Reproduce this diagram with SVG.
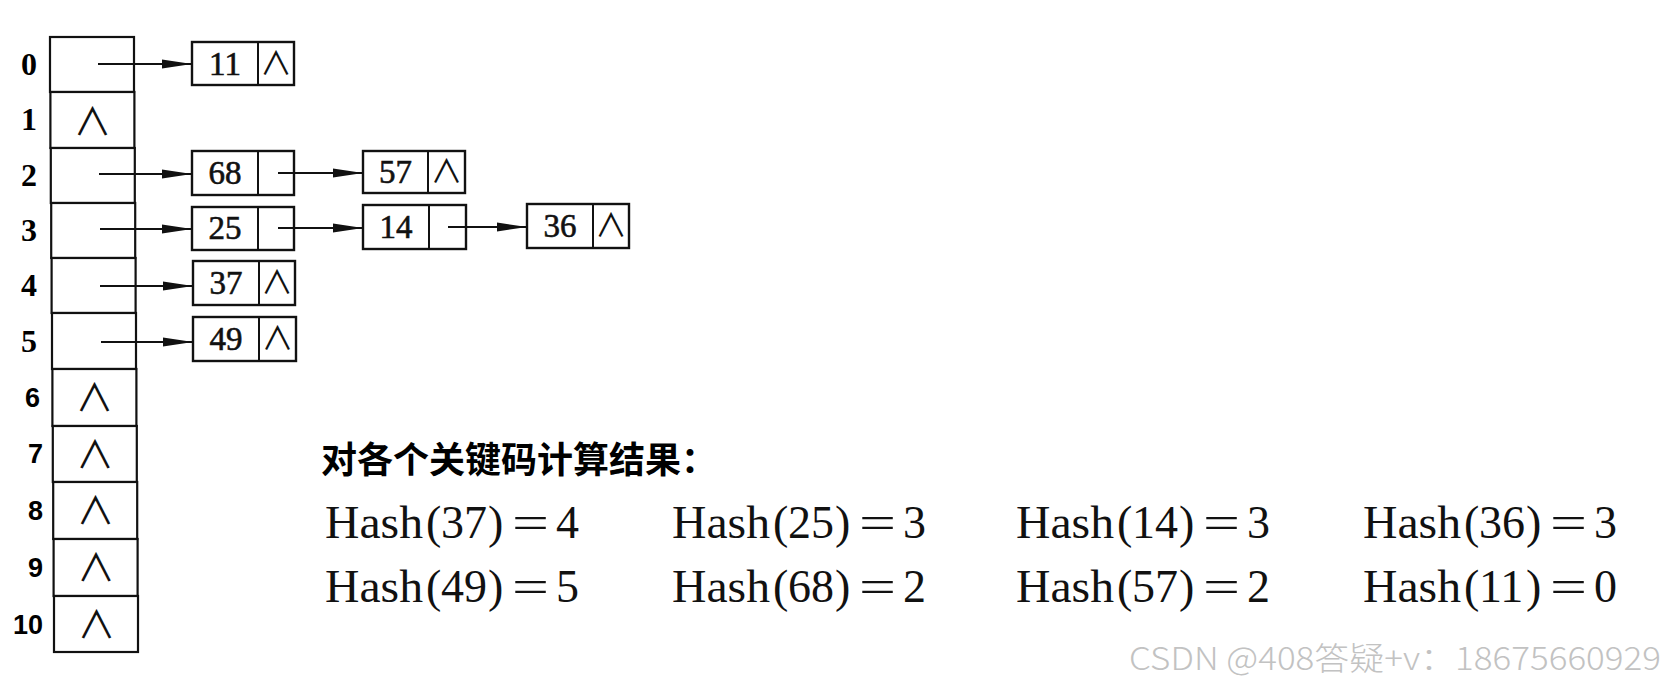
<svg xmlns="http://www.w3.org/2000/svg" width="1665" height="687" viewBox="0 0 1665 687">
<defs>
<style>
.cell{fill:#fff;stroke:#111;stroke-width:2.2}
.box{fill:#fff;stroke:#111;stroke-width:2.4}
.div{stroke:#111;stroke-width:2}
.idx{font-family:"Liberation Serif",serif;font-weight:700;font-size:32px;fill:#000;text-anchor:middle}
.idxs{font-family:"Liberation Sans",sans-serif;font-weight:700;font-size:27px;fill:#000;text-anchor:end}
.num{font-family:"Liberation Serif",serif;font-size:33px;fill:#111;stroke:#111;stroke-width:0.6;text-anchor:middle}
.nil{font-family:"Noto Sans CJK SC",sans-serif;font-weight:400;font-size:32px;fill:#111;text-anchor:middle}
.nilt{font-family:"Noto Sans CJK SC",sans-serif;font-weight:400;font-size:38px;fill:#111;text-anchor:middle}
.edge{stroke:#111;stroke-width:2.2;fill:none;marker-end:url(#ah)}
.hash{font-family:"Liberation Serif",serif;font-size:46px;fill:#111}
.title{font-family:"Noto Sans CJK SC",sans-serif;font-weight:700;font-size:36px;fill:#000}
.wm{font-family:"Noto Sans CJK SC",sans-serif;font-weight:300;font-size:32px;fill:#c2c2c2}
</style>
<marker id="ah" markerUnits="userSpaceOnUse" markerWidth="30" markerHeight="10" refX="30" refY="5" orient="auto">
<path d="M0,0.5 L30,5 L0,9.5 z" fill="#111"/>
</marker>
</defs>
<rect width="1665" height="687" fill="#fff"/>

<g id="table">
<g id="row0"><rect class="cell" x="50" y="37" width="84" height="55"/><text class="idx" x="29" y="75">0</text></g>
<g id="row1"><rect class="cell" x="50.4" y="92" width="84" height="56"/><text class="idx" x="29" y="130">1</text><text class="nilt" x="92.5" y="135">∧</text></g>
<g id="row2"><rect class="cell" x="50.8" y="148" width="84" height="55"/><text class="idx" x="29" y="186">2</text></g>
<g id="row3"><rect class="cell" x="51.2" y="203" width="84" height="55"/><text class="idx" x="29" y="241">3</text></g>
<g id="row4"><rect class="cell" x="51.6" y="258" width="84" height="55"/><text class="idx" x="29" y="296">4</text></g>
<g id="row5"><rect class="cell" x="52" y="313" width="84" height="56"/><text class="idx" x="29" y="352">5</text></g>
<g id="row6"><rect class="cell" x="52.4" y="369" width="84" height="57"/><text class="idxs" x="40" y="407">6</text><text class="nilt" x="94.5" y="411">∧</text></g>
<g id="row7"><rect class="cell" x="52.8" y="426" width="84" height="56"/><text class="idxs" x="43" y="463">7</text><text class="nilt" x="95" y="468">∧</text></g>
<g id="row8"><rect class="cell" x="53.2" y="482" width="84" height="57"/><text class="idxs" x="43" y="520">8</text><text class="nilt" x="95.5" y="524">∧</text></g>
<g id="row9"><rect class="cell" x="53.6" y="539" width="84" height="57"/><text class="idxs" x="43" y="577">9</text><text class="nilt" x="96" y="581">∧</text></g>
<g id="row10"><rect class="cell" x="54" y="596" width="84" height="56"/><text class="idxs" x="43" y="634">10</text><text class="nilt" x="96.5" y="638">∧</text></g>
</g>

<g id="n11"><rect class="box" x="192" y="42" width="102" height="43"/><line class="div" x1="258" y1="42" x2="258" y2="85"/><text class="num" x="225" y="75">11</text><text class="nil" x="276" y="75">∧</text></g>
<g id="n68"><rect class="box" x="192" y="151" width="102" height="44"/><line class="div" x1="258" y1="151" x2="258" y2="195"/><text class="num" x="225" y="184">68</text></g>
<g id="n25"><rect class="box" x="192" y="207" width="102" height="43"/><line class="div" x1="258" y1="207" x2="258" y2="250"/><text class="num" x="225" y="239">25</text></g>
<g id="n37"><rect class="box" x="193" y="261" width="102" height="44"/><line class="div" x1="259" y1="261" x2="259" y2="305"/><text class="num" x="226" y="294">37</text><text class="nil" x="277" y="294">∧</text></g>
<g id="n49"><rect class="box" x="193" y="317" width="103" height="44"/><line class="div" x1="259" y1="317" x2="259" y2="361"/><text class="num" x="226" y="350">49</text><text class="nil" x="277.5" y="350">∧</text></g>
<g id="n57"><rect class="box" x="363" y="151" width="102" height="42"/><line class="div" x1="428" y1="151" x2="428" y2="193"/><text class="num" x="395.5" y="183">57</text><text class="nil" x="446.5" y="183">∧</text></g>
<g id="n14"><rect class="box" x="363" y="205" width="103" height="44"/><line class="div" x1="429" y1="205" x2="429" y2="249"/><text class="num" x="396" y="238">14</text></g>
<g id="n36"><rect class="box" x="527" y="204" width="102" height="44"/><line class="div" x1="593" y1="204" x2="593" y2="248"/><text class="num" x="560" y="237">36</text><text class="nil" x="611" y="237">∧</text></g>

<g id="connectors">
<line class="edge" x1="98" y1="64" x2="192" y2="64"/>
<line class="edge" x1="99" y1="174" x2="192" y2="174"/>
<line class="edge" x1="100" y1="229" x2="192" y2="229"/>
<line class="edge" x1="100" y1="286" x2="193" y2="286"/>
<line class="edge" x1="101" y1="342" x2="193" y2="342"/>
<line class="edge" x1="278" y1="173" x2="363" y2="173"/>
<line class="edge" x1="278" y1="228" x2="363" y2="228"/>
<line class="edge" x1="448" y1="227" x2="527" y2="227"/>
</g>

<g id="results">
<text class="title" x="321" y="473">对各个关键码计算结果：</text>
<text class="hash" y="538"><tspan x="325" textLength="98" lengthAdjust="spacingAndGlyphs">Hash</tspan><tspan x="426">(</tspan><tspan x="441">37</tspan><tspan x="488">)</tspan><tspan x="512" textLength="37" lengthAdjust="spacingAndGlyphs">=</tspan><tspan x="556">4</tspan></text>
<text class="hash" y="538"><tspan x="672" textLength="98" lengthAdjust="spacingAndGlyphs">Hash</tspan><tspan x="773">(</tspan><tspan x="788">25</tspan><tspan x="835">)</tspan><tspan x="859" textLength="37" lengthAdjust="spacingAndGlyphs">=</tspan><tspan x="903">3</tspan></text>
<text class="hash" y="538"><tspan x="1016" textLength="98" lengthAdjust="spacingAndGlyphs">Hash</tspan><tspan x="1117">(</tspan><tspan x="1132">14</tspan><tspan x="1179">)</tspan><tspan x="1203" textLength="37" lengthAdjust="spacingAndGlyphs">=</tspan><tspan x="1247">3</tspan></text>
<text class="hash" y="538"><tspan x="1363" textLength="98" lengthAdjust="spacingAndGlyphs">Hash</tspan><tspan x="1464">(</tspan><tspan x="1479">36</tspan><tspan x="1526">)</tspan><tspan x="1550" textLength="37" lengthAdjust="spacingAndGlyphs">=</tspan><tspan x="1594">3</tspan></text>
<text class="hash" y="602"><tspan x="325" textLength="98" lengthAdjust="spacingAndGlyphs">Hash</tspan><tspan x="426">(</tspan><tspan x="441">49</tspan><tspan x="488">)</tspan><tspan x="512" textLength="37" lengthAdjust="spacingAndGlyphs">=</tspan><tspan x="556">5</tspan></text>
<text class="hash" y="602"><tspan x="672" textLength="98" lengthAdjust="spacingAndGlyphs">Hash</tspan><tspan x="773">(</tspan><tspan x="788">68</tspan><tspan x="835">)</tspan><tspan x="859" textLength="37" lengthAdjust="spacingAndGlyphs">=</tspan><tspan x="903">2</tspan></text>
<text class="hash" y="602"><tspan x="1016" textLength="98" lengthAdjust="spacingAndGlyphs">Hash</tspan><tspan x="1117">(</tspan><tspan x="1132">57</tspan><tspan x="1179">)</tspan><tspan x="1203" textLength="37" lengthAdjust="spacingAndGlyphs">=</tspan><tspan x="1247">2</tspan></text>
<text class="hash" y="602"><tspan x="1363" textLength="98" lengthAdjust="spacingAndGlyphs">Hash</tspan><tspan x="1464">(</tspan><tspan x="1479">11</tspan><tspan x="1526">)</tspan><tspan x="1550" textLength="37" lengthAdjust="spacingAndGlyphs">=</tspan><tspan x="1594">0</tspan></text>
</g>

<text class="wm" x="1129" y="670" textLength="532" lengthAdjust="spacingAndGlyphs">CSDN @408答疑+v：18675660929</text>
</svg>
